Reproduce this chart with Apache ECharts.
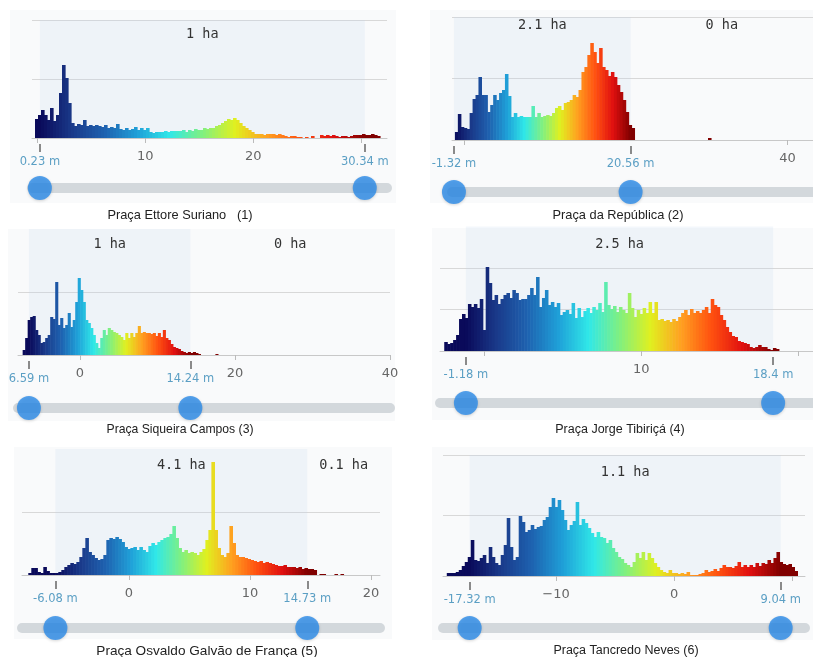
<!DOCTYPE html>
<html>
<head>
<meta charset="utf-8">
<script src="https://cdn.jsdelivr.net/npm/echarts@6/dist/echarts.min.js"></script>
<style>
  html, body { margin: 0; background: #fff; }
  #chart { width: 813px; height: 657px; }
</style>
</head>
<body>
<div id="chart"></div>
<script>
// panel captions
const captions = [
  "Praça Ettore Suriano   (1)",
  "Praça da República (2)",
  "Praça Siqueira Campos (3)",
  "Praça Jorge Tibiriçá (4)",
  "Praça Osvaldo Galvão de França (5)",
  "Praça Tancredo Neves (6)"
];

// histogram counts per height bin (bar height)
const hist1 = [19,23,28,23,18,30,17,23,45,73, 60,35,15,12,14,13,18,12,13,12,
  13,12,11,13,10,11,10,14,9,8, 10,8,9,11,8,10,8,10,6,5, 6,6,6,7,6,7,7,7,7,8,
  6,8,7,9,8,8,10,9,10,10, 12,13,15,17,19,18,20,18,15,12, 10,8,6,4,4,4,3,4,4,4,
  3,4,3,2,1,2,2,1,1,0, 1,0,2,0,0,3,2,3,2,3, 2,1,2,2,1,2,3,3,3,4, 3,3,4,3,2];
const hist2 = [8,26,13,12,11,27,41,45,63,45, 45,28,35,45,40,47,50,66,44,23,
  27,23,24,23,23,23,34,23,27,23, 24,25,24,27,32,34,30,37,38,40,
  45,43,50,68,73,85,97,88,77,92, 73,70,64,68,63,55,48,40,28,15, 12,
  0,0,0,0,0,0,0,0,0,0, 0,0,0,0,0,0,0,0,0,0, 0,0,0,0,0, 2];
const hist3 = [5,17,35,38,39,25,20,12,13,17, 20,38,36,73,30,37,27,30,42,28,
  35,53,77,65,53,35,32,27,20,12, 7,17,25,20,27,25,23,22,20,18,
  15,22,17,22,18,22,29,22,23,22, 22,21,22,19,22,18,25,17,15,11,
  8,7,6,4,3,2,3,2,3,2, 1, 0,0,0,0,0,0, 1];
const hist4 = [9,7,8,11,16,32,37,33,47,44, 47,43,52,21,84,68,51,56,47,52,
  56,58,53,61,58,51,52,52,56,63, 56,74,44,53,61,46,49,44,48,36,
  39,41,37,48,33,43,34,40,43,38, 44,41,48,39,69,46,42,45,39,44,
  41,38,58,43,34,41,37,43,38,49, 38,49,31,32,30,31,29,32,30,34,
  38,41,36,42,38,40,38,41,44,38, 52,46,44,36,31,24,19,15,14,10,
  9,8,7,4,3,4,6,4,4,2, 1,3,2];
const hist5 = [2,7,7,3,2,8,4,2,2,2, 3,5,8,10,12,11,13,18,27,37,
  23,20,17,15,16,20,35,37,36,38, 36,33,28,26,27,28,25,28,25,23,
  29,32,30,33,35,37,38,41,49,37, 27,23,25,22,23,22,20,23,26,35,
  45,113,45,27,20,18,22,49,32,20, 18,18,17,16,15,14,13,14,12,13,
  12,11,10,9,9,10,8,8,8,7, 8,6,7,6,6,5, 0,1,1,0,0,0,1,0,1];
const hist6 = [3,3,3,4,6,10,14,19,36,16, 15,18,21,13,29,19,13,11,21,31,
  58,29,16,19,60,54,44,46,51,47, 49,50,56,59,69,78,69,76,66,56,
  46,51,55,74,51,57,53,48,43,39, 44,39,38,33,36,28,24,19,17,13,
  11,9,14,23,18,24,16,23,18,13, 9,6,4,3,6,3,3,2,3,2,
  4,1,1,1,2,3,6,4,5,7, 5,8,11,9,9,8,10,14,9,11,
  9,11,9,13,10,13,12,16,13,18, 24,14,12,11,12,9,5];

// first bin edge and bin width (m)
const binStart = [-0.22, -1.2, -7.4, -2.56, -8.32, -19.26];
const binWidth = [0.278, 0.3645, 0.323, 0.1887, 0.248, 0.254];

// slider handles (m) and their labels
const handles = [[0.23, 30.34], [-1.32, 20.56], [-6.59, 14.24], [-1.18, 18.4], [-6.08, 14.73], [-17.32, 9.04]];
const handleLabels = [["0.23 m", "30.34 m"], ["-1.32 m", "20.56 m"], ["6.59 m", "14.24 m"],
  ["-1.18 m", "18.4 m"], ["-6.08 m", "14.73 m"], ["-17.32 m", "9.04 m"]];

// area inside / right of the selection
const areaIn = ["1 ha", "2.1 ha", "1 ha", "2.5 ha", "4.1 ha", "1.1 ha"];
const areaOut = [null, "0 ha", "0 ha", null, "0.1 ha", null];

// axis ticks and labels
const tickValues = [[0, 10, 20, 30], [0, 40], [0, 20, 40], [0, 10, 20], [0, 10, 20], [-10, 0, 10]];
const tickLabels = [[10, 20], [40], [0, 20, 40], [10], [0, 10, 20], [-10, 0]];

const HEIGHT_COLORS = ["#0a0a5a", "#1a3a8a", "#1e62b0", "#1fa0d8", "#30e8e8", "#80f080",
  "#e0f020", "#ffa020", "#ff5010", "#e01010", "#800000"];

// panel layout (pixels)
const layout = [
  { left: 32, width: 355, base: 138, ymax: 118, step: 59, min: -0.5, max: 32.4, slider: 188, gap: 7, cap: [180, 215], capSize: 12.8, box: [10, 10, 386, 193], maxLine: true },
  { left: 452, width: 368, base: 140, ymax: 123, step: 61.5, min: -1.56, max: 43.15, slider: 192, gap: 1.5, cap: [618, 215], capSize: 12.8, box: [430, 10, 390, 193], maxLine: true },
  { left: 18, width: 372, base: 355, ymax: 126, step: 63, min: -8, max: 40, slider: 408, gap: 8.5, cap: [180, 430], capSize: 12.2, box: [8, 229, 387, 192], maxLine: false },
  { left: 440, width: 378, base: 351, ymax: 124.5, step: 41.5, min: -2.83, max: 20.94, slider: 403, gap: 11, cap: [620, 430], capSize: 12.5, box: [432, 228, 390, 192], maxLine: false },
  { left: 22, width: 358, base: 575, ymax: 126, step: 63, min: -8.84, max: 20.74, slider: 628, gap: 9.5, cap: [207, 651], capSize: 13.6, box: [14, 447, 378, 192], maxLine: false },
  { left: 443, width: 362, base: 576, ymax: 121, step: 60.5, min: -19.58, max: 11.1, slider: 628, gap: 10.5, cap: [626, 651], capSize: 12.5, box: [432, 447, 390, 193], maxLine: true }
];

const hists = [hist1, hist2, hist3, hist4, hist5, hist6];
const grid = [], xAxis = [], yAxis = [], series = [], visualMap = [], graphic = [];

function renderBin(params, api) {
  const h = api.value(2);
  if (!h) return null;
  const a = api.coord([api.value(0), 0]);
  const b = api.coord([api.value(1), h]);
  return {
    type: "rect",
    shape: { x: a[0], y: b[1], width: b[0] - a[0] + 0.6, height: a[1] - b[1] },
    style: { fill: api.visual("color") }
  };
}

layout.forEach((L, i) => {
  const [h1, h2] = handles[i];

  grid.push({ left: L.left, width: L.width, top: L.base - L.ymax, height: L.ymax });
  grid.push({ left: L.left, width: L.width, top: L.slider - 5, height: 10 });

  xAxis.push({
    gridIndex: 2 * i, type: "value", min: L.min, max: L.max, position: "bottom",
    splitLine: { show: false },
    axisLine: { lineStyle: { color: "#c8c8c8" } },
    axisTick: { customValues: tickValues[i], length: 5, lineStyle: { color: "#bbb" } },
    axisLabel: {
      customValues: tickLabels[i], margin: 12, color: "#666",
      fontFamily: "DejaVu Sans", fontSize: 13,
      formatter: (v) => String(v).replace("-", "\u2212")
    }
  });
  xAxis.push({
    gridIndex: 2 * i, type: "value", min: L.min, max: L.max, position: "bottom", offset: 6,
    axisLine: { show: false }, splitLine: { show: false },
    axisTick: { customValues: handles[i], length: 8, lineStyle: { color: "#666", width: 1.5 } },
    axisLabel: {
      customValues: handles[i], margin: 12, color: "#5b9fc4",
      fontFamily: "DejaVu Sans", fontSize: 11.5,
      formatter: (v) => handleLabels[i][handles[i].indexOf(v)]
    }
  });
  xAxis.push({ gridIndex: 2 * i + 1, type: "value", min: L.min, max: L.max, show: false });

  yAxis.push({
    gridIndex: 2 * i, type: "value", min: 0, max: L.ymax, interval: L.step,
    axisLine: { show: false }, axisTick: { show: false }, axisLabel: { show: false },
    splitLine: { showMaxLine: L.maxLine, lineStyle: { color: "#d8d8d8" } }
  });
  yAxis.push({ gridIndex: 2 * i + 1, type: "value", min: -1, max: 1, show: false });

  const areas = [[{ xAxis: h1, name: areaIn[i], itemStyle: { color: "rgba(190,212,238,0.18)" } }, { xAxis: h2 }]];
  if (areaOut[i]) {
    areas.push([{ xAxis: h2, name: areaOut[i], itemStyle: { color: "rgba(0,0,0,0)" } }, { xAxis: L.max }]);
  }

  const w = binWidth[i];
  series.push({
    type: "custom",
    xAxisIndex: 3 * i, yAxisIndex: 2 * i,
    data: hists[i].map((v, k) => {
      const x0 = binStart[i] + k * w;
      return [x0, x0 + w, v, x0 + w / 2];
    }),
    encode: { x: [0, 1], y: 2 },
    renderItem: renderBin,
    silent: true,
    markArea: {
      silent: true,
      label: {
        show: true, position: "insideTop", distance: L.gap,
        color: "#333", fontFamily: "DejaVu Sans Mono", fontSize: 13.5
      },
      data: areas
    }
  });
  visualMap.push({
    type: "continuous", show: false, seriesIndex: 3 * i, dimension: 3,
    min: h1, max: h2, inRange: { color: HEIGHT_COLORS }
  });

  series.push({
    type: "line", xAxisIndex: 3 * i + 2, yAxisIndex: 2 * i + 1,
    data: [[L.min, 0], [L.max, 0]], symbol: "none", silent: true, clip: false,
    lineStyle: { width: 10, color: "#d3d8dc", cap: "round" }, z: 1
  });
  series.push({
    type: "scatter", xAxisIndex: 3 * i + 2, yAxisIndex: 2 * i + 1,
    data: handles[i].map((h) => [h, 0]), symbolSize: 24, silent: true, clip: false,
    itemStyle: { color: "#2b8be8", shadowBlur: 3, shadowOffsetY: 1, shadowColor: "rgba(0,0,0,0.2)" }, z: 3
  });

  graphic.push({
    type: "rect", z: -10, silent: true,
    shape: { x: L.box[0], y: L.box[1], width: L.box[2], height: L.box[3] },
    style: { fill: "#f9fafb" }
  });
  graphic.push({
    type: "text", x: L.cap[0], y: L.cap[1], silent: true,
    style: {
      text: captions[i], fill: "#222", font: L.capSize + 'px "Liberation Sans"',
      textAlign: "center", textVerticalAlign: "middle", verticalAlign: "middle"
    }
  });
});

const chart = echarts.init(document.getElementById("chart"));
chart.setOption({
  animation: false,
  backgroundColor: "#fff",
  grid, xAxis, yAxis, series, visualMap, graphic
});
</script>
</body>
</html>
